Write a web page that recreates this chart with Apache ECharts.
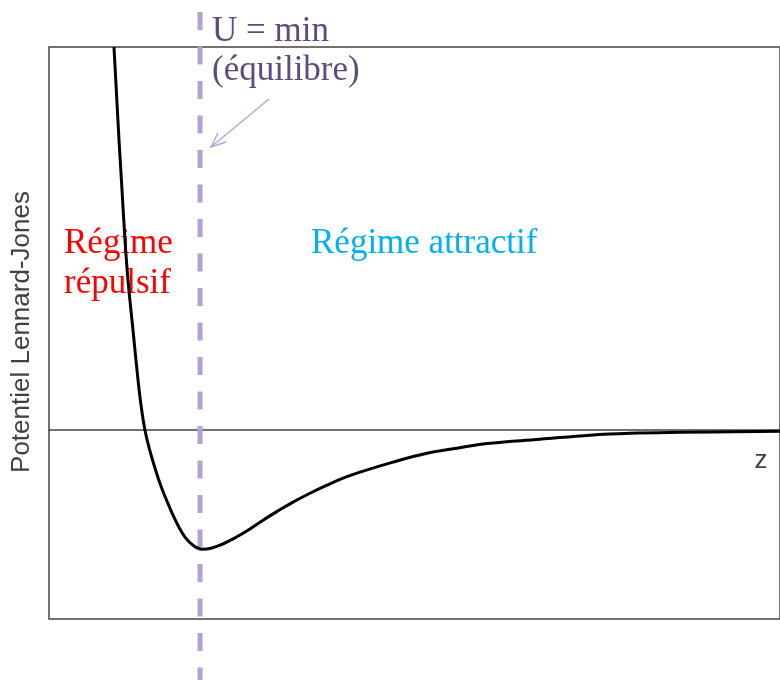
<!DOCTYPE html>
<html>
<head>
<meta charset="utf-8">
<script src="https://cdn.jsdelivr.net/npm/echarts@6/dist/echarts.min.js"></script>
<style>
  html, body { margin: 0; padding: 0; background: #fff; }
  #chart { width: 780px; height: 680px; }
</style>
</head>
<body>
<div id="chart"></div>
<script>
// courbe (z arbitraire 0..100, U en unités de profondeur)
var zValues = [8.89, 9.23, 9.58, 9.99, 10.40, 10.81, 11.49, 12.18, 12.59, 13.13, 13.82, 14.50,
    15.32, 16.14, 16.96, 17.78, 18.60, 19.70, 20.93, 22.16, 23.39, 25.58, 27.22, 28.86,
    31.05, 33.38, 35.70, 38.03, 40.22, 42.54, 47.06, 51.71, 55.81, 60.33, 67.17, 74.01,
    79.48, 86.32, 100];
var uValues = [2.029, 1.785, 1.536, 1.271, 1.006, 0.794, 0.530, 0.265, 0.132, 0, -0.111, -0.201,
    -0.297, -0.376, -0.450, -0.514, -0.566, -0.609, -0.630, -0.625, -0.609, -0.567, -0.530, -0.487,
    -0.434, -0.381, -0.334, -0.291, -0.254, -0.222, -0.169, -0.122, -0.095, -0.069, -0.048, -0.026,
    -0.016, -0.011, -0.005];
var zEquilibre = 20.66;
var zRange = [0, 100];
var uRange = [-1, 2.03];

var curve = [];
for (var i = 0; i < zValues.length; i++) {
    curve.push([zValues[i], uValues[i]]);
}

var chart = echarts.init(document.getElementById('chart'));

var serif = '"Liberation Serif", "DejaVu Serif", serif';
var sans = '"Liberation Sans", Arial, sans-serif';

option = {
    animation: false,
    grid: [{
        left: 49, top: 47, bottom: 61, right: -10,
        show: true,
        borderColor: '#444',
        borderWidth: 1.5
    }, {
        left: 49, top: 12, bottom: 0, right: -10
    }],
    xAxis: [{
        type: 'value',
        min: zRange[0], max: zRange[1],
        axisLine: { onZero: true, lineStyle: { color: '#444', width: 1.5 } },
        axisTick: { show: false },
        axisLabel: { show: false },
        splitLine: { show: false }
    }, {
        type: 'value', gridIndex: 1,
        min: zRange[0], max: zRange[1],
        show: false
    }],
    yAxis: [{
        type: 'value',
        min: uRange[0], max: uRange[1],
        axisLine: { show: false },
        axisTick: { show: false },
        axisLabel: { show: false },
        splitLine: { show: false }
    }, {
        type: 'value', gridIndex: 1,
        min: 0, max: 1,
        show: false
    }],
    series: [{
        type: 'line',
        xAxisIndex: 1, yAxisIndex: 1,
        data: [[zEquilibre, 1], [zEquilibre, 0]],
        symbol: 'none',
        z: 1,
        lineStyle: { color: '#b3a2d0', width: 5, type: [18, 16.5] }
    }, {
        type: 'line',
        data: curve,
        symbol: 'none',
        smooth: 0.4,
        z: 3,
        lineStyle: { color: '#000', width: 3 }
    }],
    graphic: [
        { type: 'text', x: 212, y: 31.5, style: { text: 'U = min', font: '35px ' + serif, fill: '#604a7b', verticalAlign: 'middle' } },
        { type: 'text', x: 212, y: 70.5, style: { text: '(équilibre)', font: '35px ' + serif, fill: '#604a7b', verticalAlign: 'middle' } },
        { type: 'line', shape: { x1: 269, y1: 99, x2: 211, y2: 147 }, style: { stroke: '#b4a7d6', lineWidth: 1.5 } },
        { type: 'polyline', shape: { points: [[226, 142], [211, 147], [218, 133]] }, style: { stroke: '#b4a7d6', lineWidth: 1.5, fill: null } },
        { type: 'text', x: 64, y: 243.5, style: { text: 'Régime', font: '35px ' + serif, fill: '#ff0000', verticalAlign: 'middle' } },
        { type: 'text', x: 64, y: 283.5, style: { text: 'répulsif', font: '35px ' + serif, fill: '#ff0000', verticalAlign: 'middle' } },
        { type: 'text', x: 311, y: 244, style: { text: 'Régime attractif', font: '35px ' + serif, fill: '#00b0f0', verticalAlign: 'middle' } },
        { type: 'text', x: 22, y: 332, rotation: Math.PI / 2, style: { text: 'Potentiel Lennard-Jones', font: '26px ' + sans, fill: '#404040', align: 'center', verticalAlign: 'middle' } },
        { type: 'text', x: 761, y: 461, style: { text: 'z', font: '26px ' + sans, fill: '#404040', align: 'center', verticalAlign: 'middle' } }
    ]
};
chart.setOption(option);
</script>
</body>
</html>
